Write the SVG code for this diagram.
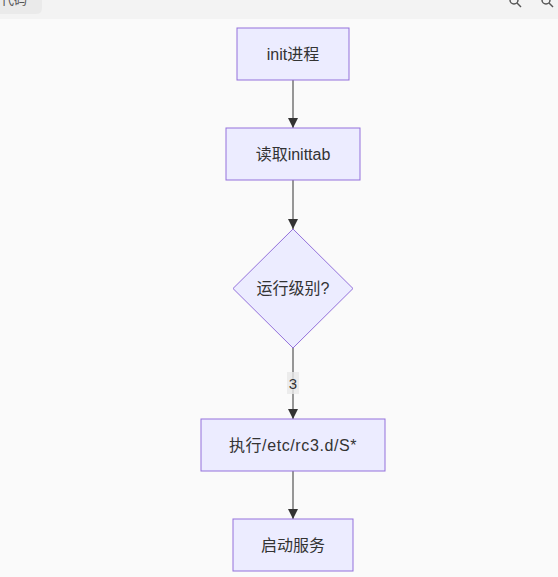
<svg xmlns="http://www.w3.org/2000/svg" width="558" height="577" viewBox="0 0 558 577">
<defs>
<style>
.node rect, .node polygon { fill: #ECECFF; stroke: #9370DB; stroke-width: 1; }
.node text { font-family: "Liberation Sans", "Noto Sans CJK SC", sans-serif; font-size: 16px; fill: #333; text-anchor: middle; dominant-baseline: central; }
.edge { stroke: #333; stroke-width: 1; fill: none; marker-end: url(#arrow); }
.elabel { font-family: "Liberation Sans", "Noto Sans CJK SC", sans-serif; font-size: 15px; fill: #333; text-anchor: middle; dominant-baseline: central; }
.icon { stroke: #555; stroke-width: 1.5; fill: none; }
</style>
<marker id="arrow" viewBox="0 0 10 10" refX="10" refY="5" markerWidth="10" markerHeight="10" markerUnits="userSpaceOnUse" orient="auto">
<path d="M0,0 L10,5 L0,10 z" fill="#333"/>
</marker>
</defs>
<rect x="0" y="0" width="558" height="577" fill="#fafafa"/>
<g id="toolbar">
<rect x="0" y="0" width="558" height="19" fill="#f3f3f3"/>
<path d="M0,0 H42 V8 Q42,14 36,14 H0 z" fill="#eaeaea"/>
<text x="14" y="4" font-family="Liberation Sans, Noto Sans CJK SC, sans-serif" font-size="13" fill="#555" text-anchor="middle">代码</text>
<circle class="icon" cx="514" cy="0" r="4"/>
<line class="icon" x1="517" y1="3" x2="521" y2="7"/>
<circle class="icon" cx="546" cy="0" r="4"/>
<line class="icon" x1="549" y1="3" x2="553" y2="7"/>
</g>
<g id="edges">
<line class="edge" x1="293" y1="80" x2="293" y2="128"/>
<line class="edge" x1="293" y1="180" x2="293" y2="229"/>
<line class="edge" x1="293" y1="348" x2="293" y2="419"/>
<line class="edge" x1="293" y1="471" x2="293" y2="519"/>
<rect x="287" y="372" width="12" height="22" fill="#e8e8e8" opacity="0.8"/>
<text class="elabel" x="293" y="383">3</text>
</g>
<g id="n1" class="node">
<rect x="237" y="28" width="112" height="52"/>
<text x="293" y="54">init进程</text>
</g>
<g id="n2" class="node">
<rect x="226" y="128" width="134" height="52"/>
<text x="293" y="154">读取inittab</text>
</g>
<g id="n3" class="node">
<polygon points="293,229 353,288.5 293,348 233,288.5"/>
<text x="293" y="288">运行级别?</text>
</g>
<g id="n4" class="node">
<rect x="201" y="419" width="184" height="52"/>
<text x="293" y="445" letter-spacing="0.6">执行/etc/rc3.d/S*</text>
</g>
<g id="n5" class="node">
<rect x="233" y="519" width="120" height="52"/>
<text x="293" y="545">启动服务</text>
</g>
</svg>
